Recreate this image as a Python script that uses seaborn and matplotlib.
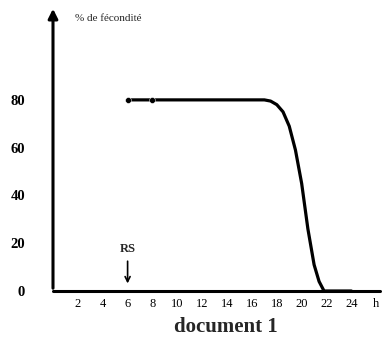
import numpy as np
import pandas as pd
import matplotlib
matplotlib.use("Agg")
import matplotlib.pyplot as plt
import seaborn as sns

heures = [6, 8, 10, 12, 14, 16, 17, 17.5, 18, 18.5, 19, 19.5, 20, 20.5, 21, 21.4, 21.8, 24]
fecondite = [80, 80, 80, 80, 80, 80, 80, 79.5, 78, 75, 69, 59, 45, 26, 11, 4, 0, 0]
points_marques = [6, 8]

x_ticks = [2, 4, 6, 8, 10, 12, 14, 16, 18, 20, 22, 24, 26]
x_labels = ["2", "4", "6", "8", "10", "12", "14", "16", "18", "20", "22", "24", "h"]
y_ticks = [0, 20, 40, 60, 80]

sns.set_style("white")
plt.rcParams['font.family'] = ['Liberation Serif', 'DejaVu Serif']

df = pd.DataFrame({"heure": heures, "fecondite": fecondite})
df_pts = df[df["heure"].isin(points_marques)]

fig = plt.figure(figsize=(3.82, 3.53), dpi=100)
ax = fig.add_axes([53 / 382, 62 / 353, 327 / 382, 285 / 353])

sns.lineplot(data=df, x="heure", y="fecondite", color="black", linewidth=2.3, ax=ax)
sns.scatterplot(data=df_pts, x="heure", y="fecondite", color="black", s=18, ax=ax, zorder=3)

ax.set_xlim(0, 26.3)
ax.set_ylim(0, 119.3)

for s in ["top", "right", "left", "bottom"]:
    ax.spines[s].set_visible(False)

# axes avec fleche verticale
ax.plot([0, 1], [0, 0], transform=ax.transAxes, color="black", lw=2.2, clip_on=False)
ax.annotate("", xy=(0, 1.0), xycoords="axes fraction", xytext=(0, 0),
            arrowprops=dict(arrowstyle="-|>", color="black", lw=2.2, mutation_scale=14))

ax.set_xticks(x_ticks)
ax.set_xticklabels(x_labels, fontsize=9)
ax.set_yticks(y_ticks)
ax.set_yticklabels([str(v) for v in y_ticks], fontsize=10.5, fontweight="bold")
ax.tick_params(axis="x", direction="in", length=4, width=1.2, pad=5, colors="black")
ax.tick_params(axis="y", direction="in", length=3, width=1.0, pad=20, colors="black")
ax.set_xlabel("")
ax.set_ylabel("")

ax.text(1.8, 114, "% de fécondité", fontsize=8, va="center", ha="left")

ax.annotate("RS", xy=(6, 2), xytext=(6, 15), ha="center", va="bottom",
            fontsize=9, fontweight="bold",
            arrowprops=dict(arrowstyle="->", color="black", lw=1.2))

fig.text(226 / 382, 1 - 327 / 353, "document 1", ha="center", va="center",
         fontsize=15, fontweight="bold")

plt.savefig("out.png", dpi=100)
